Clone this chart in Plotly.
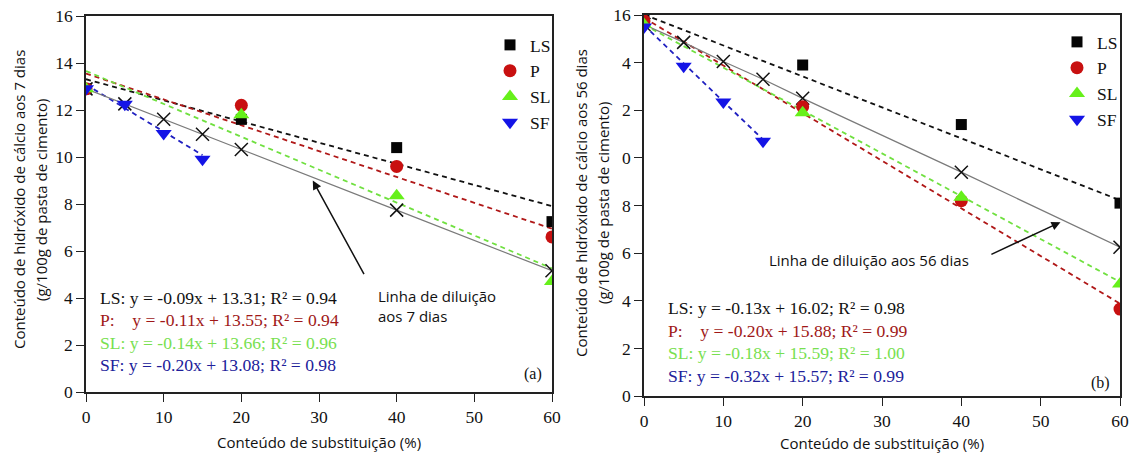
import plotly.graph_objects as go

# ---------------- data ----------------
series = ["LS", "P", "SL", "SF"]
x_main = [0, 20, 40, 60]
x_sf = [0, 5, 10, 15]
x_dil = [0, 5, 10, 15, 20, 40, 60]

# 7 days (a)
a_LS = [12.9, 11.6, 10.4, 7.25]
a_P = [12.9, 12.2, 9.6, 6.6]
a_SL = [12.9, 11.8, 8.35, 4.7]
a_SF = [12.9, 12.25, 11.0, 9.9]
a_dil = [12.9, 12.26, 11.61, 10.97, 10.32, 7.74, 5.16]
a_slope = [-0.09, -0.11, -0.14, -0.20]
a_icpt = [13.31, 13.55, 13.66, 13.08]
a_r2 = ["0.94", "0.94", "0.96", "0.98"]

# 56 days (b)
b_LS = [15.85, 13.9, 11.4, 8.1]
b_P = [15.75, 12.15, 8.2, 3.65]
b_SL = [15.6, 11.9, 8.35, 4.7]
b_SF = [15.5, 13.85, 12.35, 10.7]
b_dil = [15.6, 14.85, 14.05, 13.3, 12.5, 9.4, 6.25]
b_slope = [-0.13, -0.20, -0.18, -0.32]
b_icpt = [16.02, 15.88, 15.59, 15.57]
b_r2 = ["0.98", "0.99", "1.00", "0.99"]

fit_xmax = [60, 60, 60, 15]

y_tickvals = [0, 2, 4, 6, 8, 10, 12, 14, 16]
a_ticktext = ["0", "2", "4", "6", "8", "10", "12", "14", "16"]
b_ticktext = ["0", "2", "4", "6", "8", "0", "2", "4", "16"]
x_tickvals = [0, 10, 20, 30, 40, 50, 60]

a_ytitle = ["Conteúdo de hidróxido de cálcio aos 7 dias", "(g/100g de pasta de cimento)"]
b_ytitle = ["Conteúdo de hidróxido de cálcio aos 56 dias", "(g/100g de pasta de cimento)"]
xtitle = "Conteúdo de substituição (%)"

# ---------------- styles ----------------
marker_color = {"LS": "#050505", "P": "#c81010", "SL": "#66f01a", "SF": "#1414e6"}
marker_symbol = {"LS": "square", "P": "circle", "SL": "triangle-up", "SF": "triangle-down"}
marker_size = {"LS": 11, "P": 13, "SL": 14, "SF": 14}
line_color = {"LS": "#111111", "P": "#b01818", "SL": "#70e040", "SF": "#2020c0"}
text_color = {"LS": "#111111", "P": "#a01818", "SL": "#78e050", "SF": "#20209a"}
SERIF = "Liberation Serif, Times New Roman, serif"
SANS = "Open Sans, Noto Sans, sans-serif"

fig = go.Figure()


def add_panel(xa, ya, legend_name, vals, slopes, icpts, dil):
    for i, s in enumerate(series):
        xs = [0, fit_xmax[i]]
        ys = [slopes[i] * xv + icpts[i] for xv in xs]
        fig.add_trace(go.Scatter(
            x=xs, y=ys, mode="lines", xaxis=xa, yaxis=ya, showlegend=False,
            line=dict(color=line_color[s], width=1.8, dash="5px,4px"), hoverinfo="skip"))
    fig.add_trace(go.Scatter(
        x=x_dil, y=dil, mode="lines+markers", xaxis=xa, yaxis=ya, showlegend=False,
        line=dict(color="#7a7a7a", width=1.2),
        marker=dict(symbol="x-thin", size=13, line=dict(color="#111111", width=1.5))))
    for i, s in enumerate(series):
        xs = x_sf if s == "SF" else x_main
        fig.add_trace(go.Scatter(
            x=xs, y=vals[i], mode="markers", name=s, xaxis=xa, yaxis=ya,
            legend=legend_name,
            marker=dict(symbol=marker_symbol[s], size=marker_size[s], color=marker_color[s],
                        line=dict(width=0))))


add_panel("x", "y", "legend", [a_LS, a_P, a_SL, a_SF], a_slope, a_icpt, a_dil)
add_panel("x2", "y2", "legend2", [b_LS, b_P, b_SL, b_SF], b_slope, b_icpt, b_dil)

annotations = []


def eq_text(s, m, b, r2):
    lab = s + ":" + ("\u00a0\u00a0\u00a0" if s == "P" else "")
    return f"{lab} y = {m:.2f}x + {b:.2f}; R\u00b2 = {r2}"


eq_y_a = [4.0, 3.05, 2.1, 1.15]
eq_y_b = [3.7, 2.75, 1.8, 0.85]
for i, s in enumerate(series):
    annotations.append(dict(x=1.5, y=eq_y_a[i], xref="x", yref="y", xanchor="left", yanchor="middle",
                            text=eq_text(s, a_slope[i], a_icpt[i], a_r2[i]), showarrow=False,
                            font=dict(family=SERIF, size=17.6, color=text_color[s])))
    annotations.append(dict(x=2.8, y=eq_y_b[i], xref="x2", yref="y2", xanchor="left", yanchor="middle",
                            text=eq_text(s, b_slope[i], b_icpt[i], b_r2[i]), showarrow=False,
                            font=dict(family=SERIF, size=17.6, color=text_color[s])))

annotations.append(dict(x=59, y=0.75, xref="x", yref="y", xanchor="right", yanchor="middle", text="(a)",
                        showarrow=False, font=dict(family=SERIF, size=16, color="#111111")))
annotations.append(dict(x=59, y=0.55, xref="x2", yref="y2", xanchor="right", yanchor="middle", text="(b)",
                        showarrow=False, font=dict(family=SERIF, size=16, color="#111111")))

annotations.append(dict(x=37.3, y=3.65, xref="x", yref="y", xanchor="left", yanchor="middle",
                        text="Linha de diluição<br>aos 7 dias", align="left", showarrow=False,
                        font=dict(family=SANS, size=15, color="#111111")))
annotations.append(dict(x=29.2, y=9.0, ax=35.9, ay=4.95, xref="x", yref="y", axref="x", ayref="y",
                        text="", showarrow=True, arrowhead=2, arrowsize=1.2, arrowwidth=1.5,
                        arrowcolor="#111111"))
annotations.append(dict(x=15.5, y=5.71, xref="x2", yref="y2", xanchor="left", yanchor="middle",
                        text="Linha de diluição aos 56 dias", showarrow=False,
                        font=dict(family=SANS, size=15, color="#111111")))
annotations.append(dict(x=52.5, y=7.3, ax=43.6, ay=5.92, xref="x2", yref="y2", axref="x2", ayref="y2",
                        text="", showarrow=True, arrowhead=2, arrowsize=1.2, arrowwidth=1.5,
                        arrowcolor="#111111"))

# y-axis titles, one annotation per line
for xs_px, lines, yc in [([19, 41], a_ytitle, 200), ([581, 603], b_ytitle, 203)]:
    for xp, ln in zip(xs_px, lines):
        annotations.append(dict(x=xp / 1130, y=(455 - yc) / 455, xref="paper", yref="paper",
                                text=ln, textangle=-90, showarrow=False,
                                xanchor="center", yanchor="middle",
                                font=dict(family=SANS, size=15, color="#111111")))
for xc, yc in [(319, 442), (882, 443)]:
    annotations.append(dict(x=xc / 1130, y=(455 - yc) / 455, xref="paper", yref="paper",
                            text=xtitle, showarrow=False, xanchor="center", yanchor="middle",
                            font=dict(family=SANS, size=15, color="#111111")))

axis_common = dict(showline=True, linecolor="#222222", linewidth=1.5, mirror=True,
                   ticks="outside", ticklen=8, tickwidth=1.3, tickcolor="#222222",
                   showgrid=False, zeroline=False, automargin=False,
                   tickfont=dict(family=SERIF, size=17.5, color="#111111"))

fig.update_layout(
    width=1130, height=455,
    margin=dict(l=0, r=0, t=0, b=0),
    paper_bgcolor="white", plot_bgcolor="white",
    xaxis=dict(domain=[86 / 1130, 552 / 1130], range=[0, 60], tickvals=x_tickvals, anchor="y", **axis_common),
    yaxis=dict(domain=[(455 - 392) / 455, (455 - 16) / 455], range=[0, 16], tickvals=y_tickvals,
               ticktext=a_ticktext, anchor="x", **axis_common),
    xaxis2=dict(domain=[644 / 1130, 1120 / 1130], range=[0, 60], tickvals=x_tickvals, anchor="y2", **axis_common),
    yaxis2=dict(domain=[(455 - 396) / 455, (455 - 15) / 455], range=[0, 16], tickvals=y_tickvals,
                ticktext=b_ticktext, anchor="x2", **axis_common),
    legend=dict(x=490 / 1130, y=(455 - 27) / 455, xanchor="left", yanchor="top",
                bgcolor="rgba(0,0,0,0)", font=dict(family=SERIF, size=17.5, color="#111111"),
                tracegroupgap=0, itemwidth=30),
    legend2=dict(x=1057 / 1130, y=(455 - 24) / 455, xanchor="left", yanchor="top",
                 bgcolor="rgba(0,0,0,0)", font=dict(family=SERIF, size=17.5, color="#111111"),
                 tracegroupgap=0, itemwidth=30),
    annotations=annotations,
    showlegend=True,
)

fig.write_html("out.html", config={"displayModeBar": False},
               post_script="document.body.style.margin='0px';document.body.style.overflow='hidden';")
